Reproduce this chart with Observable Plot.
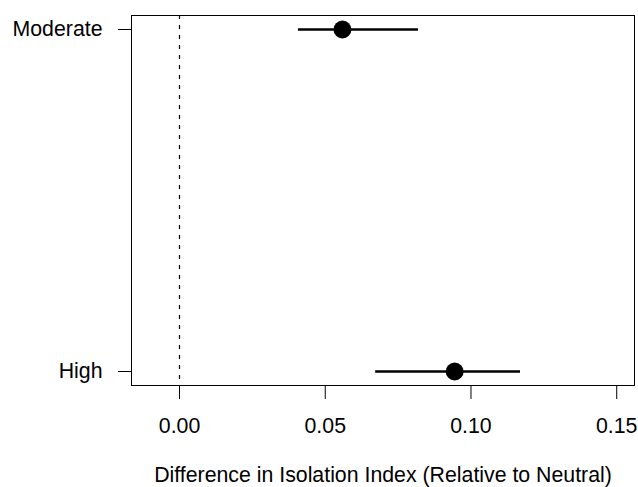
<!DOCTYPE html>
<html><head><meta charset="utf-8">
<script src="https://cdn.jsdelivr.net/npm/d3@7"></script>
<script src="https://cdn.jsdelivr.net/npm/@observablehq/plot@0.6"></script>
<style>body{margin:0;background:#fff}</style>
</head><body><div id="chart"></div>
<script>
const categories = ["Moderate", "High"];
const estimates = [0.0559, 0.0944];
const lower = [0.0408, 0.0673];
const upper = [0.0820, 0.1170];
const xTicks = [0, 0.05, 0.10, 0.15];
const xLabel = "Difference in Isolation Index (Relative to Neutral)";

const data = categories.map((c, i) => ({cat: c, est: estimates[i], lo: lower[i], hi: upper[i]}));

const chart = Plot.plot({
  width: 638,
  height: 487,
  marginLeft: 131,
  marginRight: 4,
  marginTop: 15,
  marginBottom: 102,
  style: {fontFamily: "'Liberation Sans', Arial, Helvetica, sans-serif", fontSize: "21.3px", color: "black", background: "white"},
  x: {domain: [-0.01647, 0.1561], label: null},
  y: {type: "point", domain: categories, padding: 0.04, label: null},
  marks: [
    Plot.ruleX([0], {stroke: "black", strokeWidth: 1.2, strokeDasharray: "4,6"}),
    Plot.ruleY(data, {y: "cat", x1: "lo", x2: "hi", stroke: "black", strokeWidth: 2.7}),
    Plot.dot(data, {x: "est", y: "cat", r: 9, fill: "black", stroke: null}),
    Plot.frame({stroke: "black", strokeWidth: 1}),
    Plot.axisX(xTicks, {tickSize: 14, tickPadding: 18, tickFormat: d3.format(".2f"), label: null, strokeWidth: 1}),
    Plot.axisY({tickSize: 13, tickPadding: 16, label: null, strokeWidth: 1}),
    Plot.text([xLabel], {text: d => d, frameAnchor: "bottom", lineAnchor: "bottom", dy: 96, fill: "black"})
  ]
});
document.getElementById("chart").append(chart);
</script>
</body></html>
